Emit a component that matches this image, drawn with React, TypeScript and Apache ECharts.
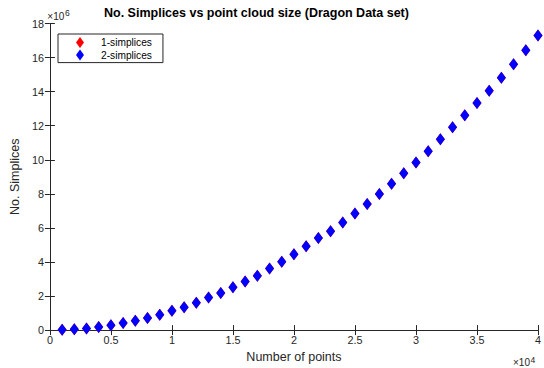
import React, { useEffect, useRef } from "react";
import * as echarts from "echarts";

// Point cloud sizes (number of points)
const pointCounts = [
  1000, 2000, 3000, 4000, 5000, 6000, 7000, 8000, 9000, 10000,
  11000, 12000, 13000, 14000, 15000, 16000, 17000, 18000, 19000, 20000,
  21000, 22000, 23000, 24000, 25000, 26000, 27000, 28000, 29000, 30000,
  31000, 32000, 33000, 34000, 35000, 36000, 37000, 38000, 39000, 40000,
];

// Number of simplices, in millions
const oneSimplicesM = [
  0.02, 0.05, 0.10, 0.18, 0.29, 0.41, 0.55, 0.71, 0.90, 1.13,
  1.34, 1.61, 1.91, 2.18, 2.51, 2.86, 3.19, 3.62, 4.02, 4.46,
  4.92, 5.41, 5.81, 6.32, 6.84, 7.41, 7.99, 8.59, 9.21, 9.84,
  10.50, 11.20, 11.91, 12.61, 13.34, 14.05, 14.81, 15.61, 16.43, 17.30,
];
const twoSimplicesM = [
  0.02, 0.05, 0.10, 0.18, 0.29, 0.41, 0.55, 0.71, 0.90, 1.13,
  1.34, 1.61, 1.91, 2.18, 2.51, 2.86, 3.19, 3.62, 4.02, 4.46,
  4.92, 5.41, 5.81, 6.32, 6.84, 7.41, 7.99, 8.59, 9.21, 9.84,
  10.50, 11.20, 11.91, 12.61, 13.34, 14.05, 14.81, 15.61, 16.43, 17.30,
];

const seriesNames = ["1-simplices", "2-simplices"];
const titleText = "No. Simplices vs point cloud size (Dragon Data set)";
const xName = "Number of points";
const yName = "No. Simplices";

const FONT = "'Liberation Sans', Arial, Helvetica, sans-serif";
const AXIS = "#262626";

export default function App() {
  const ref = useRef<HTMLDivElement>(null);

  useEffect(() => {
    if (!ref.current) return;
    const chart = echarts.init(ref.current, null, { renderer: "svg" });

    const toPairs = (vals: number[]) =>
      pointCounts.map((x, i) => [x, vals[i] * 1e6]);

    const xBase = {
      type: "value" as const,
      min: 0,
      max: 40000,
      interval: 5000,
      splitLine: { show: false },
      axisLine: { show: true, lineStyle: { color: AXIS, width: 1 } },
      axisTick: { show: true, inside: true, length: 5, lineStyle: { color: AXIS } },
    };
    const yBase = {
      type: "value" as const,
      min: 0,
      max: 18e6,
      interval: 2e6,
      splitLine: { show: false },
      axisLine: { show: true, lineStyle: { color: AXIS, width: 1 } },
      axisTick: { show: true, inside: true, length: 5, lineStyle: { color: AXIS } },
    };

    chart.setOption({
      animation: false,
      backgroundColor: "#ffffff",
      textStyle: { fontFamily: FONT },
      title: {
        text: titleText,
        left: 104,
        top: 6,
        padding: 0,
        textStyle: { fontFamily: FONT, fontSize: 12.5, fontWeight: "bold", color: "#000" },
      },
      grid: { left: 48, right: 2, top: 23.5, bottom: 36, containLabel: false },
      legend: {
        left: 58,
        top: 34,
        orient: "vertical",
        itemWidth: 8,
        itemHeight: 11,
        itemGap: 1.6,
        padding: [3, 11, 2, 18],
        borderColor: AXIS,
        borderWidth: 1,
        backgroundColor: "#fff",
        textStyle: { fontFamily: FONT, fontSize: 10.2, color: "#000", padding: [0, 0, 0, 12], lineHeight: 11 },
        data: seriesNames.map((n) => ({ name: n, icon: "diamond" })),
      },
      xAxis: [
        {
          ...xBase,
          position: "bottom",
          name: xName,
          nameLocation: "middle",
          nameGap: 15,
          nameTextStyle: { fontFamily: FONT, fontSize: 12.5, color: AXIS },
          axisLabel: {
            show: true,
            margin: 4,
            color: AXIS,
            fontFamily: FONT,
            fontSize: 10.8,
            formatter: (v: number) => String(v / 1e4),
          },
        },
        { ...xBase, position: "top", axisLabel: { show: false } },
      ],
      yAxis: [
        {
          ...yBase,
          position: "left",
          name: yName,
          nameLocation: "middle",
          nameGap: 22,
          nameTextStyle: { fontFamily: FONT, fontSize: 12.5, color: AXIS },
          axisLabel: {
            show: true,
            margin: 6,
            color: AXIS,
            fontFamily: FONT,
            fontSize: 10.8,
            formatter: (v: number) => String(v / 1e6),
          },
        },
        { ...yBase, position: "right", axisLabel: { show: false } },
      ],
      series: [
        {
          name: seriesNames[0],
          type: "scatter",
          xAxisIndex: 0,
          yAxisIndex: 0,
          symbol: "diamond",
          symbolSize: [9, 12],
          itemStyle: { color: "#ff0000", opacity: 1 },
          data: toPairs(oneSimplicesM),
          z: 2,
        },
        {
          name: seriesNames[1],
          type: "scatter",
          xAxisIndex: 0,
          yAxisIndex: 0,
          symbol: "diamond",
          symbolSize: [9, 12],
          itemStyle: { color: "#0000ff", opacity: 1 },
          data: toPairs(twoSimplicesM),
          z: 3,
        },
      ],
      graphic: [
        {
          type: "text",
          x: 47.3,
          y: 16.3,
          style: { text: "×10", fontFamily: FONT, fontSize: 10, fill: AXIS, verticalAlign: "middle", align: "left" },
        },
        {
          type: "text",
          x: 65,
          y: 12.7,
          style: { text: "6", fontFamily: FONT, fontSize: 8.5, fill: AXIS, verticalAlign: "middle", align: "left" },
        },
        {
          type: "text",
          x: 513,
          y: 362.5,
          style: { text: "×10", fontFamily: FONT, fontSize: 10, fill: AXIS, verticalAlign: "middle", align: "left" },
        },
        {
          type: "text",
          x: 530.5,
          y: 359.5,
          style: { text: "4", fontFamily: FONT, fontSize: 8.5, fill: AXIS, verticalAlign: "middle", align: "left" },
        },
      ],
    });

    return () => chart.dispose();
  }, []);

  return (
    <div
      ref={ref}
      style={{ position: "absolute", left: 0, top: 0, width: 544, height: 368, background: "#fff" }}
    />
  );
}
